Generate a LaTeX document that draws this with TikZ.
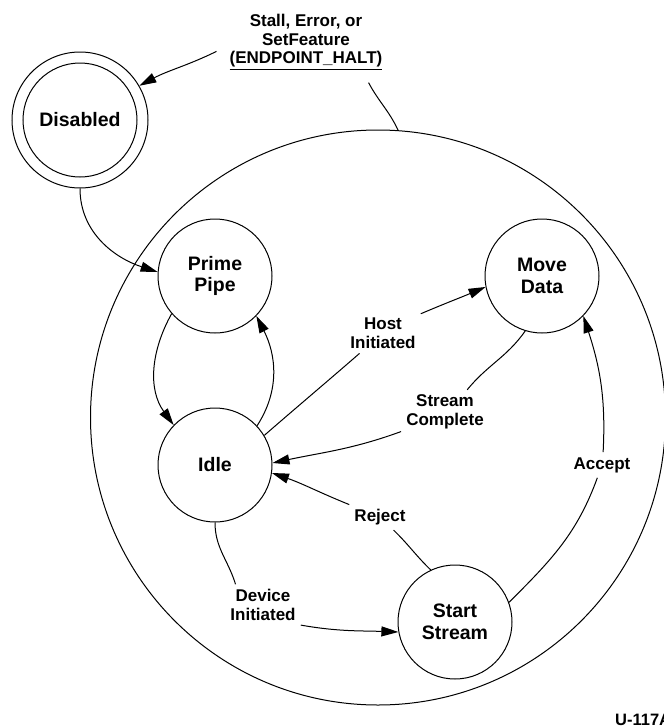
\documentclass[tikz,border=0pt]{standalone}
\usepackage{fontspec}
\setmainfont{Liberation Sans}
\usetikzlibrary{arrows.meta}
\newcommand{\statefont}{\fontsize{19.5}{21.5}\selectfont\bfseries}
\newcommand{\lblfont}{\fontsize{17}{18.5}\selectfont\bfseries}

\begin{document}
\begin{tikzpicture}[x=1pt, y=1pt,
  state/.style={circle, draw, line width=1pt, minimum size=114pt, inner sep=0pt, align=center, font=\statefont},
  lbl/.style={align=center, font=\lblfont, inner sep=5pt},
  arr/.style={line width=1pt, -{Triangle[length=17pt,width=10pt]}}]
  \useasboundingbox (0,0) rectangle (664,-726);

  % Enabled superstate
  \node[circle, draw, line width=1pt, minimum size=575pt, inner sep=0pt] (super) at (378,-417.5) {};

  % States
  \node[state, minimum size=136pt] (disabled) at (80,-120) {Disabled};
  \draw[line width=1pt] (disabled.center) circle (57pt);
  \node[state] (prime) at (215,-276) {Prime\\Pipe};
  \node[state] (moved) at (542,-276) {Move\\Data};
  \node[state] (idle) at (215,-465) {Idle};
  \node[state] (start) at (455,-622) {Start\\Stream};

  % Transition labels
  \node[lbl, inner sep=13pt] (stall) at (306,-42) {Stall, Error, or\\SetFeature\\\underline{(ENDPOINT\_HALT)}};
  \node[lbl] (host) at (383,-333) {Host\\Initiated};
  \node[lbl] (scomp) at (445,-412) {Stream\\Complete};
  \node[lbl] (reject) at (380,-517) {Reject};
  \node[lbl] (devinit) at (263,-605) {Device\\Initiated};
  \node[lbl] (accept) at (602,-465) {Accept};

  % Halt from anywhere in the superstate
  \draw[line width=1pt] (super.86) to[out=115,in=-62] (stall.-33);
  \draw[arr] (stall.186) to[out=206,in=28] (disabled.30);

  % Transitions between states
  \draw[arr] (disabled.south) to[out=-90,in=162] (prime.176);
  \draw[arr] (prime.221) to[out=241,in=126] (idle.136);
  \draw[arr] (idle.43) to[out=57,in=-63] (prime.-44);
  \draw[line width=1pt] (idle.31) to[out=41,in=221] (host.221);
  \draw[arr] (host.27) to[out=23,in=203] (moved.191);
  \draw[line width=1pt] (moved.253) to[out=235,in=51] (scomp.45);
  \draw[arr] (scomp.204) to[out=200,in=12] (idle.2);
  \draw[line width=1pt] (start.115) to[out=136,in=-44] (reject.-44);
  \draw[arr] (reject.158) to[out=158,in=-19] (idle.-8);
  \draw[line width=1pt] (idle.south) to[out=-90,in=107] (devinit.143);
  \draw[arr] (devinit.-28) to[out=-10,in=178] (start.190);
  \draw[line width=1pt] (start.20) to[out=45,in=250] (accept.250);
  \draw[arr] (accept.85) to[out=87,in=-72] (moved.-44);

  % Figure number
  \node[anchor=base west, inner sep=0pt, font=\fontsize{16.5}{18}\selectfont\bfseries] (fignum) at (615,-725) {U-117A};
\end{tikzpicture}
\end{document}
